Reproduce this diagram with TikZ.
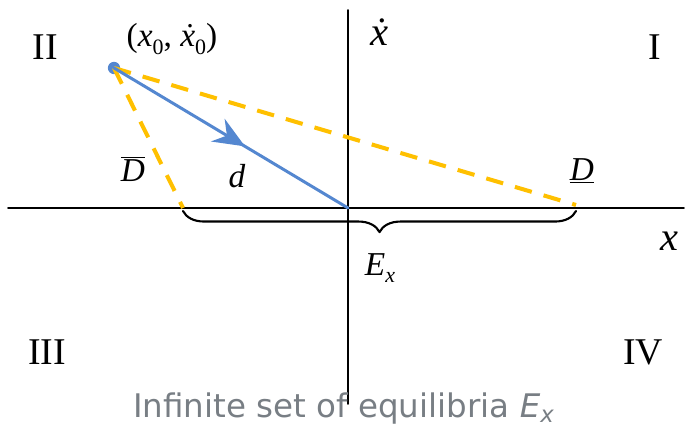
\documentclass[tikz,border=0pt]{standalone}
\usepackage{fontspec}
\setmainfont{Liberation Serif}
\newfontfamily\capfont{DejaVu Sans}
\usetikzlibrary{arrows.meta,decorations.markings,decorations.pathreplacing}
\newcommand{\lowsub}[1]{\raisebox{-0.5ex}{\fontsize{12.5}{14}\selectfont #1}}
\begin{document}
\begin{tikzpicture}[x=0.02cm, y=-0.02cm, line cap=round, line join=round]
  \definecolor{trajblue}{RGB}{84,135,208}
  \definecolor{boundgold}{RGB}{255,192,0}
  \definecolor{capgray}{RGB}{120,126,132}
  \tikzset{
    quad/.style={font=\fontsize{21.5}{25}\selectfont},
    lab/.style={font=\fontsize{19}{22}\selectfont\itshape},
    axlab/.style={font=\fontsize{23}{26}\selectfont\itshape},
    bound/.style={boundgold, line width=2.3pt, dash pattern=on 10pt off 7pt, line cap=butt},
    dot/.style={circle, fill=trajblue, inner sep=0pt, minimum size=7pt}
  }
  \useasboundingbox (0,0) rectangle (685,431);
  % axes
  \coordinate (xl) at (8,208);
  \coordinate (xr) at (684,208);
  \coordinate (yt) at (348,10);
  \coordinate (yb) at (348,404);
  \coordinate (o) at (348,208);
  \draw[line width=0.9pt] (xl) -- (xr);
  \draw[line width=0.9pt] (yt) -- (yb);
  \node[axlab] (xlab) at (669,241) {x};
  \node[axlab] (ylab) at (379,32) {\.{x}};
  % quadrants
  \node[quad] (q2) at (45,47) {II};
  \node[quad] (q1) at (655,47) {I};
  \node[quad] (q3) at (47,352) {III};
  \node[quad] (q4) at (643,352) {IV};
  % initial state and bounds
  \node[dot] (p0) at (114,68) {};
  \node[lab] (p0lab) at (172,39) {\upshape(\textit{x}\lowsub{0}, \textit{\.{x}}\lowsub{0})};
  \coordinate (dl) at (183,208);
  \coordinate (dr) at (576,205);
  \draw[bound] (p0.center) -- (dl);
  \draw[bound] (p0.center) -- (dr);
  \draw[trajblue, line width=1.7pt,
    decoration={markings, mark=at position 0.56 with {\arrow{Stealth[length=18pt,width=15pt,inset=6pt]}}},
    postaction={decorate}] (p0.center) -- (o);
  \node[lab] (dup) at (133,169) {$\overline{\mbox{\itshape D}}$};
  \node[lab] (dd) at (237,176) {d};
  \node[lab] (dlo) at (582,171) {\underline{D}};
  % equilibrium set
  \draw[line width=1.2pt, decoration={brace, mirror, amplitude=12pt}, decorate] (183,211) -- (576,211);
  \node[lab] (ex) at (380,268) {E\lowsub{x}};
  \node[capgray, font=\capfont\fontsize{18.5}{22}\selectfont] (cap) at (344,409) {Infinite set of equilibria \textit{E}\textsubscript{\textit{x}}};
\end{tikzpicture}
\end{document}
